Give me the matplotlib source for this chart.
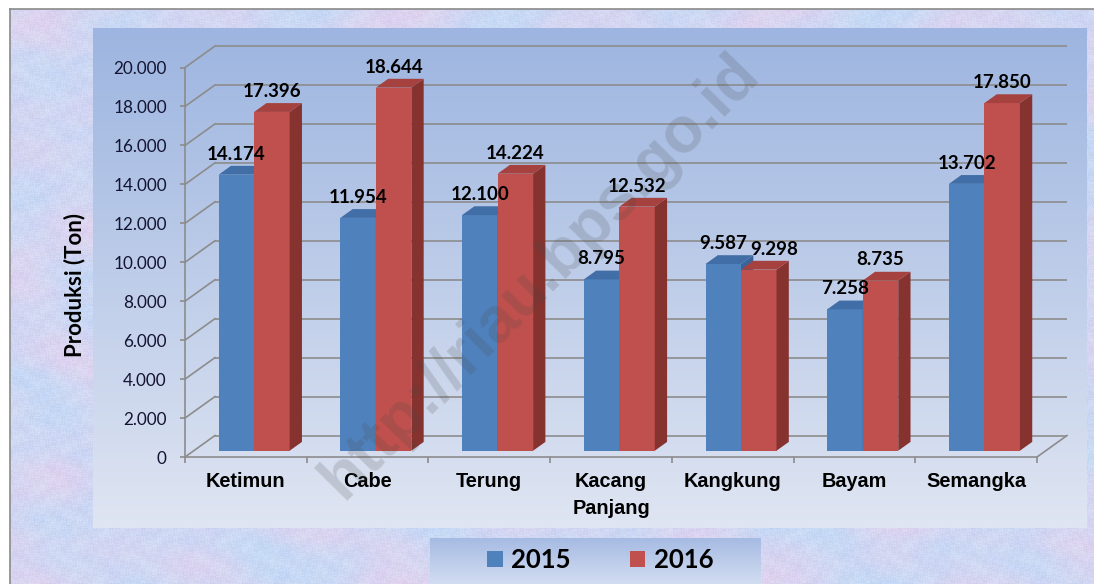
import numpy as np
import matplotlib
matplotlib.use("Agg")
import matplotlib.pyplot as plt
from matplotlib.patches import Polygon
from matplotlib import font_manager as fm

# ---------------- data ----------------
categories = ["Ketimun", "Cabe", "Terung", "Kacang\nPanjang", "Kangkung", "Bayam", "Semangka"]
series_names = ["2015", "2016"]
values_2015 = [14174, 11954, 12100, 8795, 9587, 7258, 13702]
values_2016 = [17396, 18644, 14224, 12532, 9298, 8735, 17850]
y_ticks = [0, 2000, 4000, 6000, 8000, 10000, 12000, 14000, 16000, 18000, 20000]
y_tick_labels = ["0", "2.000", "4.000", "6.000", "8.000", "10.000", "12.000",
                 "14.000", "16.000", "18.000", "20.000"]
y_label = "Produksi (Ton)"
watermark = "http://riau.bps.go.id"

# ---------------- style ----------------
W, H = 1094, 584
BLUE = ("#4f81bd", "#3a6397", "#416ea6")   # front, side, top
RED = ("#c0504d", "#86322f", "#a5413e")
GRID = "#8c8c8c"

def has_font(name):
    return any(f.name == name for f in fm.fontManager.ttflist)

NUM_FONT = "Lato" if has_font("Lato") else "DejaVu Sans"
if has_font("Liberation Sans Narrow"):
    CAT_FONT, CAT_SIZE, CAT_LS = "Liberation Sans Narrow", 16.5, 1.38
else:
    CAT_FONT, CAT_SIZE, CAT_LS = "Liberation Sans", 14.3, 1.58

fig = plt.figure(figsize=(W / 100, H / 100), dpi=100)

# ---------------- background ----------------
bg = fig.add_axes([0, 0, 1, 1])
bg.set_zorder(-5)
bg.axis("off")

def texture(h, w):
    yy, xx = np.mgrid[0:h, 0:w].astype(float)
    n1 = (np.sin(xx / 29.0 + 2.3 * np.sin(yy / 37.0)) +
          np.sin(yy / 23.0 + 1.9 * np.cos(xx / 31.0)) +
          np.sin(xx / 53.0 - yy / 47.0 + 1.5 * np.sin(yy / 13.0))) / 3.0
    n2 = (np.sin(xx * 1.37 + 3.1 * np.sin(yy * 0.71)) *
          np.sin(yy * 1.13 + 2.7 * np.sin(xx * 0.59)))
    n3 = np.sin(xx / 11.0 + 1.7 * np.sin(yy / 7.0)) * np.sin(yy / 9.0 + 1.3 * np.sin(xx / 6.0))
    blue = np.array([0.77, 0.84, 0.96])
    pink = np.array([0.89, 0.81, 0.93])
    cyan = np.array([0.80, 0.91, 0.97])
    a = np.clip(0.45 + 0.5 * n1 + 0.15 * n3, 0, 1)[..., None]
    b = np.clip(0.5 + 0.5 * n3, 0, 1)[..., None]
    img = blue * (1 - a) + pink * a
    img = img * (1 - 0.35 * b) + cyan * 0.35 * b
    img = img + 0.03 * n2[..., None]
    return np.clip(img, 0, 1)

bg.imshow(texture(H - 9, W - 10), extent=(10, W, H, 9), aspect="auto",
          interpolation="bilinear", zorder=0)

def vgrad(top, bottom, n=256):
    t = np.linspace(0, 1, n)[:, None, None]
    top = np.array(matplotlib.colors.to_rgb(top))
    bottom = np.array(matplotlib.colors.to_rgb(bottom))
    return top * (1 - t) + bottom * t

bg.imshow(vgrad("#9db5e0", "#dfe5f2"), extent=(93, 1087, 528, 28), aspect="auto", zorder=1)
bg.imshow(vgrad("#a6bbe3", "#d2ddf1"), extent=(430, 761, 584, 538), aspect="auto", zorder=1)
bg.plot([9.5, 9.5], [8.5, H], color="#8a8a8a", lw=1.2, zorder=2)
bg.plot([9.5, W], [8.5, 8.5], color="#8a8a8a", lw=1.2, zorder=2)
bg.set_xlim(0, W)
bg.set_ylim(H, 0)

# ---------------- main axes (front plane) ----------------
x_left, x_right, y_zero, y_top = 185, 1037, 457, 67.5
ax = fig.add_axes([x_left / W, (H - y_zero) / H, (x_right - x_left) / W, (y_zero - y_top) / H])
ax.patch.set_visible(False)
n = len(categories)
ax.set_xlim(0, n)
ax.set_ylim(0, 20000)
sx = (x_right - x_left) / n
sy = (y_zero - y_top) / 20000.0

wall_dx, wall_dy = 30 / sx, 21.5 / sy
off_dx, off_dy = 8.3 / sx, 6.3 / sy
dep_dx, dep_dy = 12.3 / sx, 8.8 / sy
bar_w = 35.5 / sx

# back wall grid lines + side wall diagonals
for t in y_ticks:
    ax.plot([wall_dx, n + wall_dx], [t + wall_dy, t + wall_dy], color=GRID, lw=1.2,
            zorder=1, clip_on=False, solid_capstyle="butt")
    ax.plot([0, wall_dx], [t, t + wall_dy], color=GRID, lw=1.2, zorder=1, clip_on=False)
ax.plot([n, n + wall_dx], [0, wall_dy], color=GRID, lw=1.2, zorder=1, clip_on=False)

centers = np.arange(n) + 0.5

def draw_series(x0s, vals, cols, z, label):
    ax.bar(x0s, vals, width=bar_w, bottom=off_dy, align="edge", color=cols[0],
           lw=0, zorder=z, clip_on=False, label=label)
    for x0, v in zip(x0s, vals):
        x1 = x0 + bar_w
        yb, yt = off_dy, off_dy + v
        side = Polygon([(x1, yb), (x1 + dep_dx, yb + dep_dy), (x1 + dep_dx, yt + dep_dy), (x1, yt)],
                       closed=True, fc=cols[1], lw=0, zorder=z + 0.05, clip_on=False)
        top = Polygon([(x0, yt), (x1, yt), (x1 + dep_dx, yt + dep_dy), (x0 + dep_dx, yt + dep_dy)],
                      closed=True, fc=cols[2], lw=0, zorder=z + 0.05, clip_on=False)
        ax.add_patch(side)
        ax.add_patch(top)

x_blue = centers - bar_w + off_dx
x_red = centers + off_dx
draw_series(x_blue, values_2015, BLUE, 3.0, series_names[0])
draw_series(x_red, values_2016, RED, 3.2, series_names[1])

def fmt(v):
    return f"{v:,}".replace(",", ".")

label_shift_px = {(1, 4): 15}
for s, (xs, vals) in enumerate([(x_blue, values_2015), (x_red, values_2016)]):
    for i, (x0, v) in enumerate(zip(xs, vals)):
        dx = label_shift_px.get((s, i), 0) / sx
        ax.text(x0 + bar_w / 2 + dx, v + off_dy + dep_dy + 6.3 / sy, fmt(v),
                ha="center", va="baseline", fontsize=13.5, fontweight="bold",
                family=NUM_FONT, color="black", zorder=6, clip_on=False)

# axes styling
for sp in ["top", "right"]:
    ax.spines[sp].set_visible(False)
for sp in ["left", "bottom"]:
    ax.spines[sp].set_color(GRID)
    ax.spines[sp].set_linewidth(1.2)
    ax.spines[sp].set_zorder(2)
ax.set_yticks(y_ticks)
ax.set_yticklabels(y_tick_labels, fontsize=12.3, family=NUM_FONT, color="#141432")
ax.tick_params(axis="y", length=3.6, width=1.2, color=GRID, pad=9.5)
ax.set_xticks(centers)
ax.set_xticklabels(categories, fontsize=CAT_SIZE, fontweight="bold", family=CAT_FONT,
                   color="black", linespacing=CAT_LS)
ax.tick_params(axis="x", which="major", length=0, pad=10.5)
ax.set_xticks(np.arange(n + 1), minor=True)
ax.tick_params(axis="x", which="minor", length=4.3, width=1.2, color=GRID)

fig.text(75 / W, 1 - 285 / H, y_label, rotation=90, ha="center", va="center",
         fontsize=16, fontweight="bold", family=NUM_FONT, color="black")

# legend
fig.legend(loc="center", bbox_to_anchor=(600 / W, 1 - 560 / H), ncol=2, frameon=False,
           prop={"family": NUM_FONT, "weight": "bold", "size": 18.5},
           handlelength=0.62, handleheight=0.62, handletextpad=0.32, columnspacing=2.3)

# watermark
fig.text(540 / W, 1 - 276 / H, watermark, rotation=45.5, ha="center", va="center",
         fontsize=46, fontweight="bold", family="Liberation Sans", color="#4a4a4a",
         alpha=0.19, zorder=10)

fig.savefig("out.png", dpi=100)
